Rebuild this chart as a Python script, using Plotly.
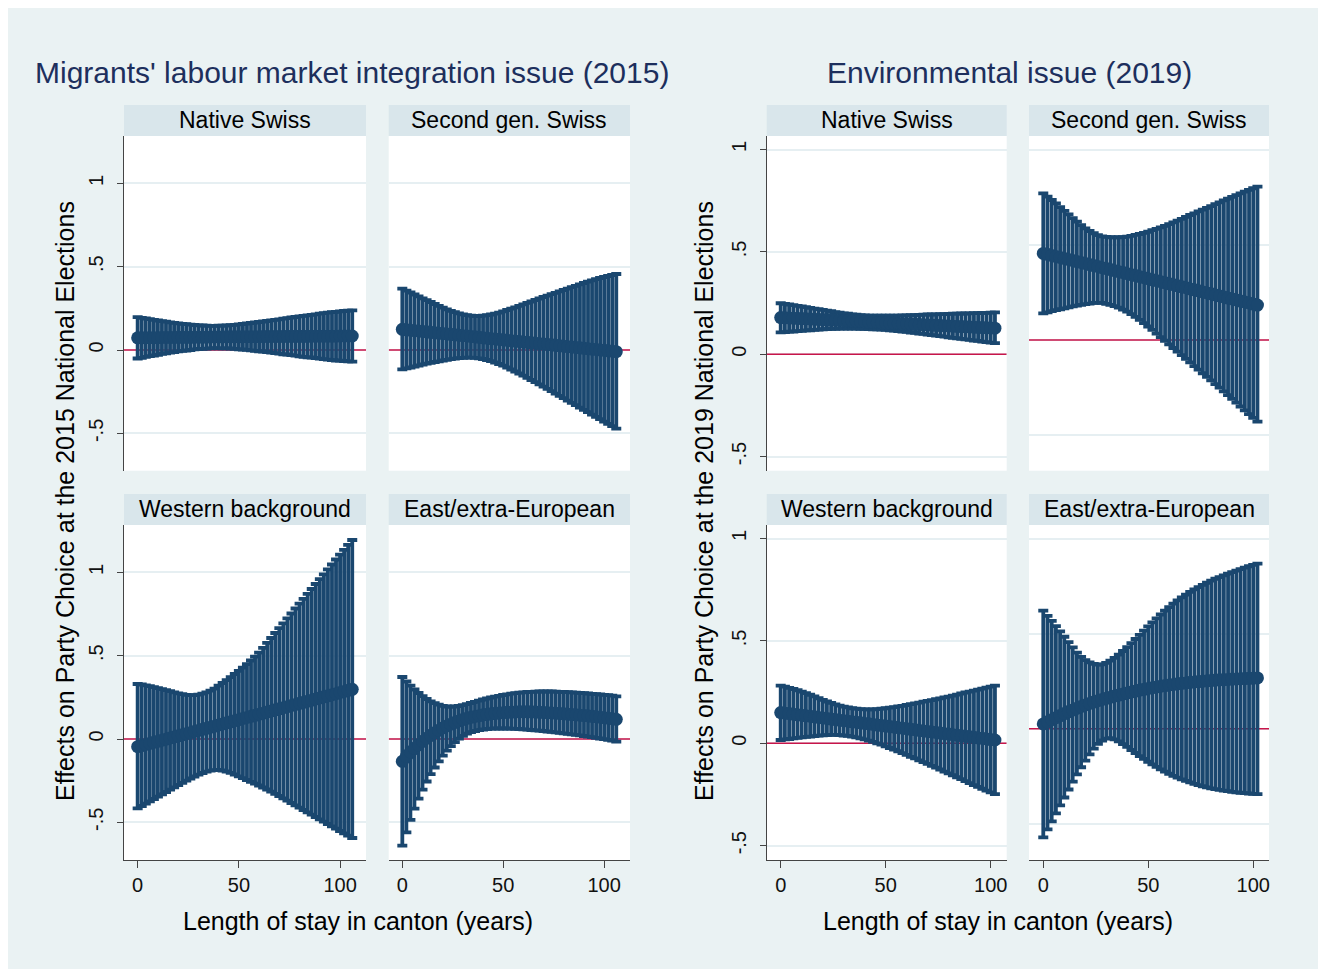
import plotly.graph_objects as go

# ---------------- data ----------------
years_2015 = list(range(0, 107, 2))   # length of stay (years), 2015 models
years_2019 = list(range(0, 103, 2))   # length of stay (years), 2019 models

groups = ["Native Swiss", "Second gen. Swiss", "Western background", "East/extra-European"]
panel_titles = ["Migrants' labour market integration issue (2015)", "Environmental issue (2019)"]
x_title = "Length of stay in canton (years)"
y_titles = ["Effects on Party Choice at the 2015 National Elections",
            "Effects on Party Choice at the 2019 National Elections"]
x_tick_vals = [0, 50, 100]
y_tick_vals = [-0.5, 0, 0.5, 1]
y_tick_text = ["-.5", "0", ".5", "1"]
reference_value = 0

# 2015 - Native Swiss
ns15_est = [.073, .073, .074, .074, .074, .074, .075, .075, .075, .075,
            .076, .076, .076, .076, .077, .077, .077, .077, .078, .078,
            .078, .078, .079, .079, .079, .079, .080, .080, .080, .080,
            .080, .081, .081, .081, .081, .081, .081, .082, .082, .082,
            .082, .082, .082, .083, .083, .083, .083, .083, .083, .083,
            .084, .084, .084, .084]
ns15_hi = [.197, .193, .189, .185, .181, .177, .173, .170, .166, .163,
           .160, .157, .155, .152, .150, .148, .147, .146, .145, .145,
           .146, .146, .147, .149, .151, .154, .156, .159, .162, .165,
           .168, .171, .174, .178, .181, .184, .188, .191, .195, .198,
           .202, .205, .208, .211, .214, .218, .221, .224, .227, .229,
           .232, .234, .236, .238]
ns15_lo = [-.051, -.047, -.041, -.037, -.033, -.029, -.023, -.020, -.016, -.013,
           -.008, -.005, -.003, .000, .004, .006, .007, .008, .010, .011,
           .010, .010, .010, .009, .007, .004, .003, .001, -.002, -.005,
           -.008, -.009, -.012, -.016, -.019, -.022, -.026, -.027, -.031, -.034,
           -.038, -.041, -.044, -.045, -.048, -.052, -.055, -.058, -.061, -.063,
           -.064, -.066, -.068, -.070]

# 2015 - Second generation Swiss
sg15_est = [.124, .121, .119, .116, .114, .111, .109, .106, .104, .101,
            .099, .096, .094, .091, .089, .086, .084, .081, .079, .076,
            .073, .071, .068, .066, .063, .061, .058, .056, .053, .051,
            .048, .046, .043, .041, .038, .036, .033, .031, .028, .025,
            .023, .020, .018, .015, .013, .010, .008, .005, .003, .000,
            -.002, -.005, -.007, -.010]
sg15_hi = [.368, .356, .345, .333, .322, .310, .299, .288, .276, .265,
           .254, .244, .235, .227, .220, .214, .209, .206, .204, .204,
           .206, .209, .213, .218, .224, .232, .240, .248, .256, .265,
           .274, .283, .291, .300, .309, .318, .326, .335, .343, .352,
           .360, .368, .377, .385, .394, .402, .410, .418, .425, .432,
           .438, .444, .450, .456]
sg15_lo = [-.116, -.110, -.105, -.099, -.093, -.087, -.082, -.077, -.072, -.068,
           -.063, -.059, -.055, -.052, -.049, -.047, -.046, -.046, -.047, -.050,
           -.054, -.060, -.067, -.075, -.084, -.094, -.105, -.117, -.129, -.141,
           -.154, -.167, -.180, -.193, -.206, -.220, -.233, -.247, -.261, -.275,
           -.289, -.303, -.317, -.331, -.345, -.359, -.373, -.387, -.401, -.415,
           -.429, -.443, -.457, -.471]

# 2015 - Western background
wb15_est = [-.046, -.040, -.033, -.027, -.020, -.014, -.007, -.001, .006, .012,
            .019, .025, .032, .038, .045, .051, .058, .064, .071, .077,
            .084, .090, .097, .103, .110, .116, .123, .129, .136, .142,
            .149, .155, .162, .168, .175, .181, .188, .194, .201, .207,
            .214, .220, .227, .233, .240, .246, .253, .259, .266, .272,
            .279, .285, .292, .298]
wb15_hi = [.330, .327, .322, .317, .311, .305, .299, .293, .287, .280,
           .274, .269, .265, .263, .263, .266, .272, .280, .290, .302,
           .320, .336, .353, .371, .390, .409, .428, .449, .471, .494,
           .518, .547, .577, .606, .636, .665, .694, .724, .753, .783,
           .812, .841, .871, .900, .930, .959, .988, 1.018, 1.047, 1.077,
           1.106, 1.135, 1.165, 1.194]
wb15_lo = [-.416, -.402, -.388, -.374, -.360, -.346, -.332, -.318, -.304, -.290,
           -.276, -.263, -.250, -.237, -.225, -.214, -.204, -.196, -.190, -.187,
           -.186, -.189, -.195, -.203, -.213, -.224, -.235, -.246, -.257, -.268,
           -.279, -.291, -.303, -.316, -.329, -.342, -.356, -.370, -.384, -.398,
           -.412, -.426, -.440, -.454, -.468, -.482, -.496, -.510, -.524, -.538,
           -.552, -.566, -.580, -.594]

# 2015 - East/extra-European
ee15_est = [-.134, -.104, -.078, -.056, -.035, -.014, .005, .022, .038, .052,
            .066, .078, .089, .099, .108, .117, .124, .130, .135, .140,
            .145, .148, .151, .154, .156, .158, .160, .161, .162, .163,
            .163, .163, .163, .162, .161, .159, .158, .156, .155, .153,
            .151, .149, .147, .145, .143, .141, .139, .136, .134, .131,
            .128, .125, .122, .118]
ee15_hi = [.372, .345, .320, .297, .276, .257, .240, .226, .215, .206,
           .199, .195, .194, .195, .198, .203, .209, .216, .223, .230,
           .237, .243, .249, .254, .259, .264, .268, .272, .275, .278,
           .280, .282, .283, .284, .285, .285, .285, .285, .284, .283,
           .282, .281, .280, .278, .277, .275, .273, .271, .269, .267,
           .265, .263, .260, .256]
ee15_lo = [-.640, -.560, -.485, -.418, -.358, -.304, -.255, -.211, -.171, -.134,
           -.100, -.070, -.043, -.019, .002, .019, .032, .041, .048, .053,
           .057, .060, .062, .063, .063, .063, .063, .062, .061, .060,
           .058, .056, .054, .052, .050, .048, .045, .043, .040, .037,
           .034, .031, .028, .025, .022, .018, .014, .011, .007, .003,
           -.001, -.005, -.010, -.016]

# 2019 - Native Swiss
ns19_est = [.179, .178, .177, .176, .175, .174, .173, .172, .171, .170,
            .169, .168, .167, .166, .165, .164, .163, .162, .161, .160,
            .159, .157, .156, .155, .154, .153, .152, .151, .150, .149,
            .148, .147, .146, .145, .144, .143, .142, .141, .140, .139,
            .138, .137, .136, .135, .134, .133, .132, .131, .130, .129,
            .128, .127]
ns19_hi = [.249, .246, .243, .240, .236, .233, .230, .226, .223, .220,
           .217, .213, .210, .206, .203, .200, .198, .195, .193, .191,
           .190, .189, .189, .188, .188, .188, .189, .189, .189, .190,
           .190, .191, .191, .192, .193, .194, .194, .195, .196, .196,
           .197, .198, .198, .199, .199, .200, .201, .201, .202, .202,
           .203, .204]
ns19_lo = [.107, .108, .110, .111, .113, .114, .116, .117, .119, .120,
           .122, .123, .124, .124, .125, .125, .125, .125, .125, .124,
           .124, .123, .122, .121, .120, .119, .117, .115, .113, .111,
           .109, .106, .104, .101, .099, .096, .093, .091, .088, .086,
           .083, .080, .078, .075, .073, .070, .067, .065, .062, .059,
           .057, .054]

# 2019 - Second generation Swiss
sg19_est = [.456, .451, .445, .440, .435, .429, .424, .419, .413, .408,
            .403, .397, .392, .387, .381, .376, .371, .365, .360, .355,
            .349, .344, .339, .333, .328, .323, .317, .312, .307, .301,
            .296, .291, .285, .280, .275, .269, .264, .259, .253, .248,
            .243, .237, .232, .227, .221, .216, .211, .205, .200, .195,
            .189, .184]
sg19_hi = [.772, .755, .737, .719, .700, .680, .661, .642, .623, .605,
           .588, .574, .562, .552, .546, .543, .541, .540, .541, .542,
           .544, .548, .553, .558, .564, .570, .578, .585, .593, .601,
           .610, .619, .629, .638, .648, .658, .667, .677, .686, .696,
           .705, .715, .725, .735, .744, .754, .763, .772, .781, .790,
           .799, .807]
sg19_lo = [.140, .146, .152, .157, .162, .167, .172, .177, .181, .185,
           .189, .192, .195, .196, .195, .190, .185, .178, .170, .160,
           .149, .136, .122, .106, .089, .071, .053, .034, .015, -.004,
           -.023, -.042, -.061, -.080, -.099, -.118, -.137, -.156, -.175, -.194,
           -.213, -.232, -.251, -.270, -.290, -.310, -.330, -.350, -.370, -.390,
           -.410, -.430]

# 2019 - Western background
wb19_est = [.150, .147, .145, .142, .139, .137, .134, .132, .129, .126,
            .124, .121, .118, .116, .113, .110, .108, .105, .103, .100,
            .097, .095, .092, .089, .087, .084, .082, .079, .076, .074,
            .071, .068, .066, .063, .060, .058, .055, .053, .050, .047,
            .045, .042, .039, .037, .034, .032, .029, .026, .024, .021,
            .018, .016]
wb19_hi = [.282, .277, .271, .265, .259, .252, .245, .237, .229, .220,
           .212, .204, .197, .190, .184, .179, .175, .171, .169, .167,
           .166, .166, .166, .167, .169, .171, .174, .177, .180, .183,
           .187, .191, .195, .199, .203, .207, .211, .215, .219, .224,
           .228, .233, .238, .243, .248, .252, .257, .262, .267, .272,
           .277, .282]
wb19_lo = [.016, .019, .021, .024, .026, .029, .031, .033, .035, .037,
           .039, .040, .041, .041, .040, .038, .036, .033, .029, .024,
           .019, .013, .007, .000, -.007, -.015, -.023, -.031, -.039, -.048,
           -.057, -.066, -.074, -.083, -.092, -.101, -.110, -.119, -.128, -.138,
           -.147, -.156, -.166, -.175, -.185, -.195, -.204, -.213, -.222, -.231,
           -.240, -.248]

# 2019 - East/extra-European
ee19_est = [.025, .036, .047, .058, .069, .080, .090, .099, .108, .117,
            .125, .133, .140, .147, .154, .160, .166, .172, .177, .183,
            .188, .193, .198, .203, .207, .212, .216, .220, .224, .227,
            .230, .233, .236, .239, .241, .244, .246, .248, .250, .252,
            .254, .256, .257, .258, .259, .261, .262, .263, .264, .265,
            .266, .267]
ee19_hi = [.621, .594, .567, .540, .512, .484, .456, .428, .400, .378,
           .361, .349, .341, .337, .339, .346, .358, .373, .390, .409,
           .429, .450, .472, .494, .516, .538, .560, .581, .601, .621,
           .640, .658, .675, .691, .706, .720, .733, .745, .757, .768,
           .779, .789, .798, .807, .816, .824, .832, .840, .848, .855,
           .862, .869]
ee19_lo = [-.572, -.530, -.488, -.446, -.404, -.362, -.320, -.279, -.240, -.203,
           -.168, -.135, -.105, -.080, -.062, -.052, -.050, -.056, -.067, -.081,
           -.096, -.112, -.128, -.144, -.159, -.174, -.188, -.201, -.214, -.226,
           -.237, -.248, -.258, -.267, -.275, -.283, -.290, -.297, -.303, -.309,
           -.314, -.318, -.322, -.326, -.329, -.332, -.335, -.337, -.339, -.341,
           -.343, -.344]

# ---------------- styling / layout ----------------
NAVY = "#1a476f"
RED = "#c8154a"
BG = "#eaf2f3"
STRIP = "#d9e6eb"
GRID = "#e6eff2"
TITLE_C = "#1d2f5d"
FONT = "Liberation Sans, Arial, Helvetica, sans-serif"

W, H, OFF = 1310, 961, 8


def fx(p):
    return (p - OFF) / W


def fy(p):
    return 1 - (p - OFF) / H


col_px = [(124, 366), (388.7, 630), (766.7, 1006.7), (1029, 1269)]
row_px = [(136, 470.7), (525, 860)]
strip_px = [(105, 136), (494, 525)]

# (est, lo, hi, years, column, row, group index, x range, y range)
panels = [
    (ns15_est, ns15_lo, ns15_hi, years_2015, 0, 0, 0, [-6.75, 112.8], [-0.724, 1.284]),
    (sg15_est, sg15_lo, sg15_hi, years_2015, 1, 0, 1, [-6.75, 112.8], [-0.724, 1.284]),
    (wb15_est, wb15_lo, wb15_hi, years_2015, 0, 1, 2, [-6.75, 112.8], [-0.726, 1.284]),
    (ee15_est, ee15_lo, ee15_hi, years_2015, 1, 1, 3, [-6.75, 112.8], [-0.726, 1.284]),
    (ns19_est, ns19_lo, ns19_hi, years_2019, 2, 0, 0, [-6.67, 107.6], [-0.569, 1.066]),
    (sg19_est, sg19_lo, sg19_hi, years_2019, 3, 0, 1, [-6.8, 107.5], [-0.688, 1.074]),
    (wb19_est, wb19_lo, wb19_hi, years_2019, 2, 1, 2, [-6.67, 107.6], [-0.570, 1.066]),
    (ee19_est, ee19_lo, ee19_hi, years_2019, 3, 1, 3, [-6.8, 107.5], [-0.691, 1.072]),
]

fig = go.Figure()
layout = dict(
    width=W, height=H,
    margin=dict(l=0, r=0, t=0, b=0),
    paper_bgcolor=BG, plot_bgcolor="white",
    showlegend=False,
    font=dict(family=FONT, color="#111111"),
)
shapes = []
annotations = []

for i, (est, lo, hi, yrs, col, row, g, xr, yr) in enumerate(panels, start=1):
    for name, arr in (("est", est), ("lo", lo), ("hi", hi)):
        if len(arr) != len(yrs):
            raise ValueError(f"panel {i} {name}: {len(arr)} vs {len(yrs)}")
    xa = "x" if i == 1 else f"x{i}"
    ya = "y" if i == 1 else f"y{i}"
    up = [h - e for h, e in zip(hi, est)]
    dn = [e - l for e, l in zip(est, lo)]
    # reference line (drawn first so the bands sit on top of it)
    fig.add_trace(go.Scatter(
        x=xr, y=[reference_value, reference_value], mode="lines",
        line=dict(color=RED, width=1.6), xaxis=xa, yaxis=ya, hoverinfo="skip"))
    fig.add_trace(go.Scatter(
        x=yrs, y=est, mode="markers",
        marker=dict(size=1, color="rgba(0,0,0,0)"),
        error_y=dict(type="data", symmetric=False, array=up, arrayminus=dn,
                     color=NAVY, thickness=3.8, width=5),
        xaxis=xa, yaxis=ya, hoverinfo="skip"))
    fig.add_trace(go.Scatter(
        x=yrs, y=est, mode="lines+markers",
        line=dict(color=NAVY, width=11),
        marker=dict(size=13, color=NAVY, line=dict(width=0)),
        xaxis=xa, yaxis=ya, hoverinfo="skip"))

    x0p, x1p = col_px[col]
    y0p, y1p = row_px[row]
    left_col = col in (0, 2)
    bottom_row = row == 1
    xkey = "xaxis" if i == 1 else f"xaxis{i}"
    ykey = "yaxis" if i == 1 else f"yaxis{i}"
    layout[xkey] = dict(
        domain=[fx(x0p), fx(x1p)], anchor=ya, range=xr,
        tickvals=x_tick_vals, showgrid=False, zeroline=False,
        showline=bottom_row, linecolor="#444444", linewidth=1.3,
        ticks="outside" if bottom_row else "", ticklen=7, tickcolor="#444444",
        showticklabels=bottom_row, tickfont=dict(size=20, color="#111111"),
        fixedrange=True)
    layout[ykey] = dict(
        domain=[fy(y1p), fy(y0p)], anchor=xa, range=yr,
        tickvals=y_tick_vals, ticktext=y_tick_text,
        showgrid=True, gridcolor=GRID, gridwidth=2, zeroline=False,
        showline=left_col, linecolor="#444444", linewidth=1.3,
        ticks="outside" if left_col else "", ticklen=6, tickcolor="#444444",
        showticklabels=left_col, tickangle=-90, ticklabelstandoff=6,
        tickfont=dict(size=20, color="#111111"), fixedrange=True)

    # strip
    s0, s1 = strip_px[row]
    shapes.append(dict(type="rect", xref="paper", yref="paper",
                       x0=fx(x0p), x1=fx(x1p), y0=fy(s1), y1=fy(s0),
                       fillcolor=STRIP, line=dict(width=0), layer="above"))
    annotations.append(dict(text=groups[g], xref="paper", yref="paper",
                            x=fx((x0p + x1p) / 2), y=fy((s0 + s1) / 2 - 0.5),
                            xanchor="center", yanchor="middle", showarrow=False,
                            font=dict(size=23, color="#000000")))

# combined-graph titles and axis titles
for k, (tx, ytx, xcx, ycx) in enumerate([(352, 65, 358, 65), (1009, 704, 998, 704)]):
    annotations.append(dict(text=panel_titles[k], xref="paper", yref="paper",
                            x=fx(tx), y=fy(72.5), xanchor="center", yanchor="middle",
                            showarrow=False, font=dict(size=30, color=TITLE_C)))
    annotations.append(dict(text=x_title, xref="paper", yref="paper",
                            x=fx(xcx), y=fy(921), xanchor="center", yanchor="middle",
                            showarrow=False, font=dict(size=25, color="#000000")))
    annotations.append(dict(text=y_titles[k], xref="paper", yref="paper",
                            x=fx(ycx), y=fy(501), xanchor="center", yanchor="middle",
                            textangle=-90, showarrow=False,
                            font=dict(size=25, color="#000000")))

layout["shapes"] = shapes
layout["annotations"] = annotations
fig.update_layout(**layout)
fig.write_html("out.html")
